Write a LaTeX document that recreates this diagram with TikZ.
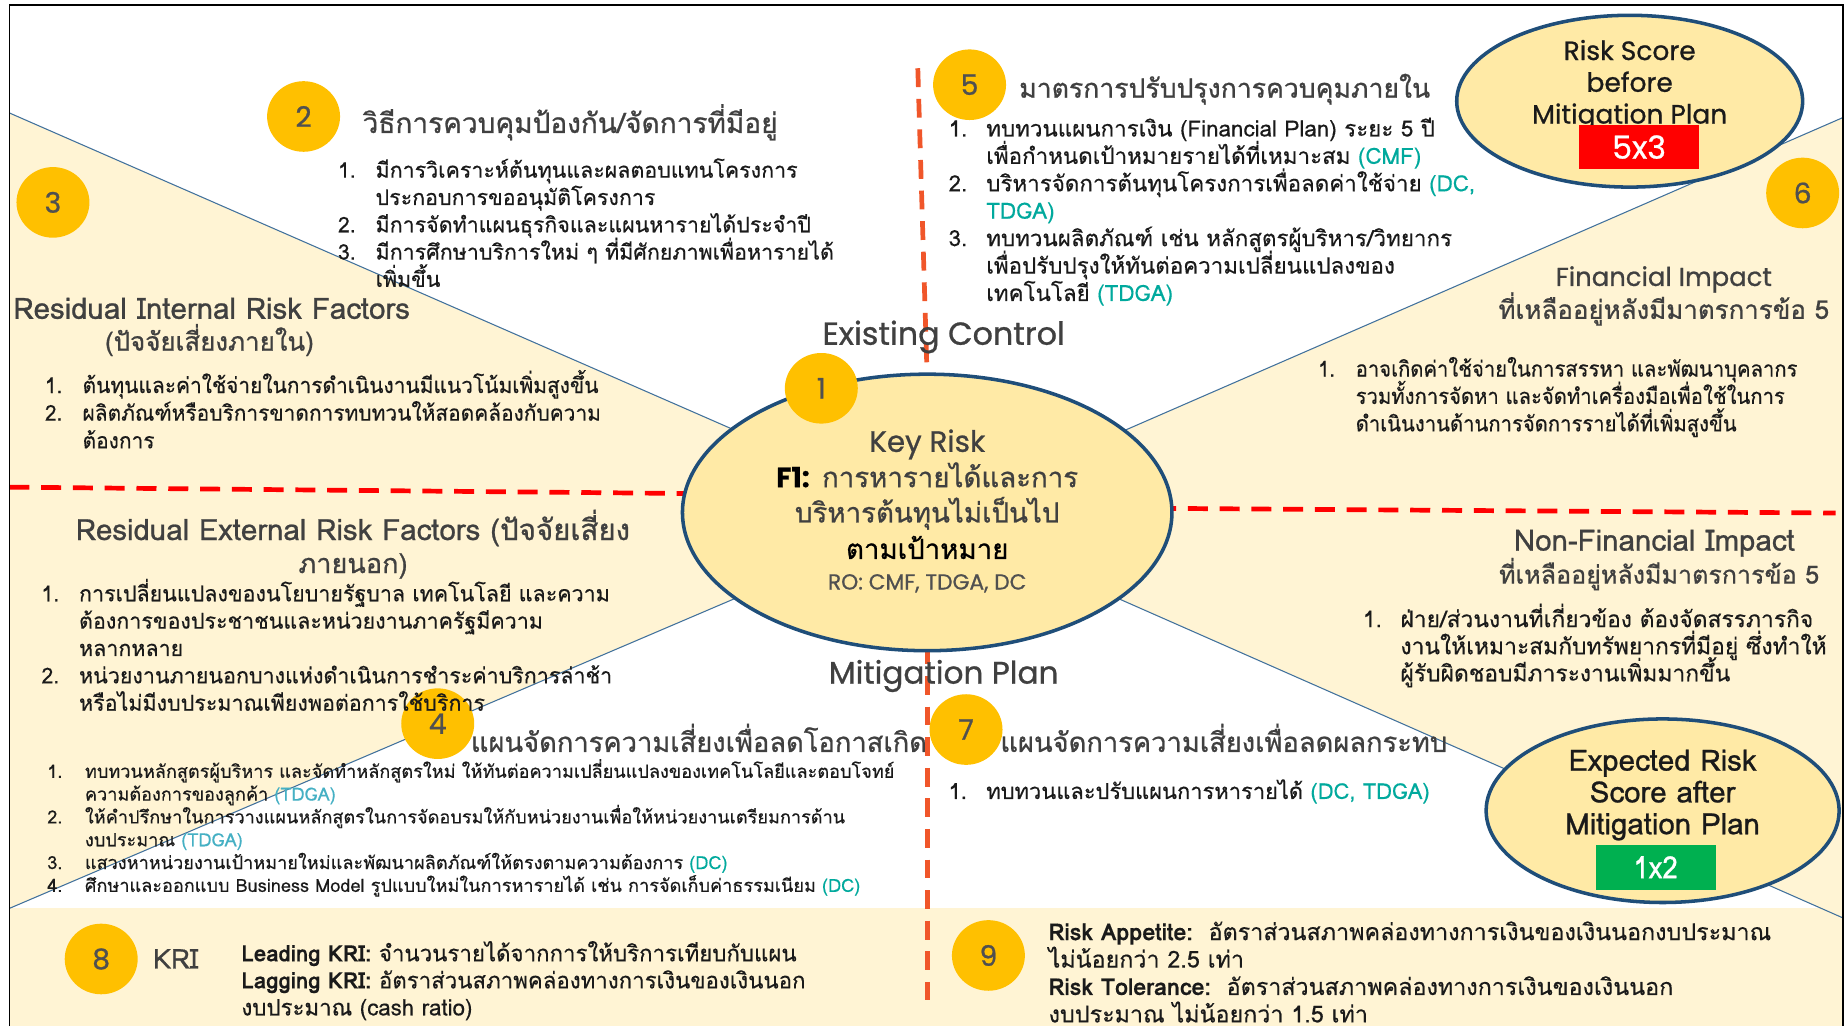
\documentclass[tikz,border=0pt]{standalone}
\usepackage{fontspec}
\setmainfont{Poppins}
\newfontfamily\thf[Script=Thai,FakeBold=0.4]{Loma}
\newfontfamily\thh[Script=Thai,FakeBold=0.8]{Loma}
\newfontfamily\pop[FakeBold=0.8]{Poppins}
\usetikzlibrary{shapes.geometric}
\pgfdeclarelayer{bg}
\pgfsetlayers{bg,main}

\definecolor{cream}{HTML}{FFF4D4}
\definecolor{keyfill}{HTML}{FFEAA6}
\definecolor{navy}{HTML}{1F4E79}
\definecolor{steel}{HTML}{41719C}
\definecolor{gold}{HTML}{FFC000}
\definecolor{numgray}{HTML}{505050}
\definecolor{head}{HTML}{404040}
\definecolor{body}{HTML}{1A1A1A}
\definecolor{tealro}{HTML}{00A99D}
\definecolor{cyanro}{HTML}{45B0C4}
\definecolor{dashred}{HTML}{FF0000}
\definecolor{dashorange}{HTML}{F0562A}
\definecolor{scorered}{HTML}{FF0000}
\definecolor{scoregreen}{HTML}{00B050}

% list helpers: hanging item number and continuation indent
\newcommand\nm[1]{\makebox[32pt][l]{#1}}
\newcommand\ind{\hspace*{32pt}}
\newcommand\ro[1]{\textcolor{tealro}{#1}}
\newcommand\rc[1]{\textcolor{cyanro}{#1}}
% Thai text at a size and a horizontal squeeze
\newcommand\thsize[2]{\thf\fontsize{#1}{#1}\selectfont\addfontfeatures{FakeStretch=#2}}
\newcommand\thhead[2]{\thh\fontsize{#1}{#1}\selectfont\addfontfeatures{FakeStretch=#2}}
% one node per text line: [style] name x y-of-first-baseline line-step {lines}
\newcommand\tlines[6][]{%
  \foreach \tx [count=\i from 0] in {#6}{%
    \node[txt,#1] (#2-\i) at ({#3},{#4+\i*#5}) {\tx};}}

\tikzset{
  txt/.style={anchor=base west, inner sep=0pt, text=body},
  ctxt/.style={anchor=base, inner sep=0pt},
  titlef/.style={font=\thhead{#1}{1}, text=head},
  popf/.style={font=\pop\fontsize{#1}{#1}\selectfont},
  badge/.style={ellipse, fill=gold, minimum width=62pt, minimum height=60pt,
    inner sep=0pt, text=numgray, font=\pop\fontsize{24}{24}\selectfont},
  bubble/.style={ellipse, draw=navy, line width=3pt, fill=keyfill, inner sep=0pt},
  diag/.style={draw=steel, line width=0.9pt},
  reddash/.style={draw=dashred, line width=4pt, dash pattern=on 17pt off 10pt},
  orangedash/.style={draw=dashorange, line width=4pt, dash pattern=on 16pt off 10pt},
  scorebox/.style={minimum width=102pt, minimum height=38pt, inner sep=0pt, text=white},
}

\begin{document}
\begin{tikzpicture}[x=1pt,y=-1pt]
\useasboundingbox (0,0) rectangle (1568,872);

% ---- central key risk ----
\node[bubble, minimum width=416pt, minimum height=235pt] (key) at (788,435.5) {};
\coordinate (hub) at (790,438);

% ---- background: quadrants, boundaries and dashed dividers ----
\begin{pgfonlayer}{bg}
  \fill[white] (0,0) rectangle (1568,872);
  \coordinate (tl) at (8,96);
  \coordinate (bl) at (8,772);
  \coordinate (tr) at (1566,100);
  \coordinate (br) at (1566,780);
  \fill[cream] (tl) -- (hub) -- (bl) -- cycle;
  \fill[cream] (tr) -- (hub) -- (br) -- cycle;
  \fill[cream] (8,772) rectangle (1566,872);
  \draw[diag] (tl) -- (hub);
  \draw[diag] (bl) -- (hub);
  \draw[diag] (tr) -- (hub);
  \draw[diag] (br) -- (hub);
  \coordinate (hl) at (8,414);
  \coordinate (hr) at (1560,436);
  \coordinate (vt) at (780,58);
  \coordinate (vb) at (788,850);
  \draw[reddash] (hl) -- ([xshift=15pt,yshift=16pt]key.west);
  \draw[reddash] ([xshift=-15pt,yshift=3.5pt]key.east) -- (hr);
  \draw[orangedash] (vt) -- ([yshift=-6pt]key.north);
  \draw[orangedash] ([yshift=6pt]key.south) -- (vb);
  \draw[line width=1.5pt, black] (8,872) -- (8,4) -- (1566,4) -- (1566,872);
\end{pgfonlayer}

% ---- score bubbles ----
\node[bubble, minimum width=294pt, minimum height=146pt] (before) at (1385,86) {};
\node[bubble, minimum width=300pt, minimum height=156pt] (after) at (1413,689) {};

% ---- numbered badges ----
\node[badge] (b1) at (698,330) {1};
\node[badge] (b2) at (258,99) {2};
\node[badge] (b3) at (45,172) {3};
\node[badge] (b4) at (372,615) {4};
\node[badge] (b5) at (824,72) {5};
\node[badge] (b6) at (1532,164) {6};
\node[badge] (b7) at (821,620) {7};
\node[badge] (b8) at (86,815) {8};
\node[badge] (b9) at (840,812) {9};

% ---- key risk text ----
\node[ctxt, popf=25, text=head] (keyh) at (788,384) {Key Risk};
\node[ctxt, font=\thhead{23.5}{1}, text=head] (keya) at (788,414)
  {{\pop\bfseries\color{black}F1:} การหารายได้และการ};
\node[ctxt, font=\thhead{23.5}{1}, text=head] (keyb) at (788,444) {บริหารต้นทุนไม่เป็นไป};
\node[ctxt, font=\thhead{23.5}{1}, text=black] (keyc) at (788,475) {ตามเป้าหมาย};
\node[ctxt, popf=18.5, text=numgray] (keyro) at (788,501) {RO: CMF, TDGA, DC};

\node[ctxt, popf=27, text=head] (exist) at (802,293) {Existing Control};
\node[ctxt, popf=26.5, text=head] (mitig) at (802,581) {Mitigation Plan};

% ---- score texts ----
\node[ctxt, popf=22.5, text=body] (bf1) at (1385,51) {Risk Score};
\node[ctxt, popf=22.5, text=body] (bf2) at (1385,78) {before};
\node[ctxt, popf=22.5, text=body] (bf3) at (1385,105) {Mitigation Plan};
\node[scorebox, fill=scorered, popf=27] (bscore) at (1393,125) {5x3};

\node[ctxt, titlef=25, text=body] (af1) at (1413,655) {Expected Risk};
\node[ctxt, titlef=25, text=body] (af2) at (1413,682) {Score after};
\node[ctxt, titlef=25, text=body] (af3) at (1413,709) {Mitigation Plan};
\node[scorebox, fill=scoregreen, font=\thhead{26}{0.9}] (ascore) at (1407,737) {1x2};

% ---- 2: existing controls ----
\node[txt, titlef=23.8] (t2) at (308,113) {วิธีการควบคุมป้องกัน/จัดการที่มีอยู่};
\tlines[font=\thsize{18.2}{1}]{l2}{287}{151}{23.2}{%
  {\nm{1.}มีการวิเคราะห์ต้นทุนและผลตอบแทนโครงการ},
  {\ind ประกอบการขออนุมัติโครงการ},
  {\nm{2.}มีการจัดทำแผนธุรกิจและแผนหารายได้ประจำปี},
  {\nm{3.}มีการศึกษาบริการใหม่ ๆ ที่มีศักยภาพเพื่อหารายได้},
  {\ind เพิ่มขึ้น}}

% ---- 3: internal factors ----
\node[ctxt, titlef=25] (t3a) at (180,271) {Residual Internal Risk Factors};
\node[ctxt, titlef=22] (t3b) at (178,298) {(ปัจจัยเสี่ยงภายใน)};
\tlines[font=\thsize{18.5}{0.96}]{l3}{38}{334}{23.5}{%
  {\nm{1.}ต้นทุนและค่าใช้จ่ายในการดำเนินงานมีแนวโน้มเพิ่มสูงขึ้น},
  {\nm{2.}ผลิตภัณฑ์หรือบริการขาดการทบทวนให้สอดคล้องกับความ},
  {\ind ต้องการ}}

% ---- external factors ----
\node[ctxt, titlef=25] (tea) at (300,459) {Residual External Risk Factors (ปัจจัยเสี่ยง};
\node[ctxt, titlef=23] (teb) at (300,487) {ภายนอก)};
\tlines[font=\thsize{18.5}{0.985}]{le}{35}{511}{23.25}{%
  {\nm{1.}การเปลี่ยนแปลงของนโยบายรัฐบาล เทคโนโลยี และความ},
  {\ind ต้องการของประชาชนและหน่วยงานภาครัฐมีความ},
  {\ind หลากหลาย},
  {\nm{2.}หน่วยงานภายนอกบางแห่งดำเนินการชำระค่าบริการล่าช้า},
  {\ind หรือไม่มีงบประมาณเพียงพอต่อการใช้บริการ}}

% ---- 4: likelihood mitigation ----
\node[txt, titlef=23.2] (t4) at (400,639) {แผนจัดการความเสี่ยงเพื่อลดโอกาสเกิด};
\tlines[font=\thsize{15.4}{1}]{l4}{40}{661}{19.4}{%
  {\nm{1.}ทบทวนหลักสูตรผู้บริหาร และจัดทำหลักสูตรใหม่ ให้ทันต่อความเปลี่ยนแปลงของเทคโนโลยีและตอบโจทย์},
  {\ind ความต้องการของลูกค้า \rc{(TDGA)}},
  {\nm{2.}ให้คำปรึกษาในการวางแผนหลักสูตรในการจัดอบรมให้กับหน่วยงานเพื่อให้หน่วยงานเตรียมการด้าน},
  {\ind งบประมาณ \rc{(TDGA)}},
  {\nm{3.}แสวงหาหน่วยงานเป้าหมายใหม่และพัฒนาผลิตภัณฑ์ให้ตรงตามความต้องการ \ro{(DC)}},
  {\nm{4.}ศึกษาและออกแบบ Business Model รูปแบบใหม่ในการหารายได้ เช่น การจัดเก็บค่าธรรมเนียม \ro{(DC)}}}

% ---- 5: control improvements ----
\node[txt, titlef=22.6] (t5) at (866,83) {มาตรการปรับปรุงการควบคุมภายใน};
\tlines[font=\thsize{19}{1}]{l5}{806}{116}{23.3}{%
  {\nm{1.}ทบทวนแผนการเงิน (Financial Plan) ระยะ 5 ปี},
  {\ind เพื่อกำหนดเป้าหมายรายได้ที่เหมาะสม \ro{(CMF)}},
  {\nm{2.}บริหารจัดการต้นทุนโครงการเพื่อลดค่าใช้จ่าย \ro{(DC,}},
  {\ind\ro{TDGA)}},
  {\nm{3.}ทบทวนผลิตภัณฑ์ เช่น หลักสูตรผู้บริหาร/วิทยากร},
  {\ind เพื่อปรับปรุงให้ทันต่อความเปลี่ยนแปลงของ},
  {\ind เทคโนโลยี \ro{(TDGA)}}}

% ---- 6: financial impact ----
\node[ctxt, popf=22, text=head] (t6a) at (1414,243) {Financial Impact};
\node[ctxt, titlef=22] (t6b) at (1414,271) {ที่เหลืออยู่หลังมีมาตรการข้อ 5};
\tlines[font=\thsize{18.5}{0.93}]{l6}{1120}{320}{23.3}{%
  {\nm{1.}อาจเกิดค่าใช้จ่ายในการสรรหา และพัฒนาบุคลากร},
  {\ind รวมทั้งการจัดหา และจัดทำเครื่องมือเพื่อใช้ในการ},
  {\ind ดำเนินงานด้านการจัดการรายได้ที่เพิ่มสูงขึ้น}}

% ---- non-financial impact ----
\node[ctxt, titlef=25] (tna) at (1406,468) {Non-Financial Impact};
\node[ctxt, titlef=21.3] (tnb) at (1410,496) {ที่เหลืออยู่หลังมีมาตรการข้อ 5};
\tlines[font=\thsize{19.4}{1}]{ln}{1158}{533}{23}{%
  {\nm{1.}ฝ่าย/ส่วนงานที่เกี่ยวข้อง ต้องจัดสรรภารกิจ},
  {\ind งานให้เหมาะสมกับทรัพยากรที่มีอยู่ ซึ่งทำให้},
  {\ind ผู้รับผิดชอบมีภาระงานเพิ่มมากขึ้น}}

% ---- 7: impact mitigation ----
\node[txt, titlef=23.2] (t7) at (850,639) {แผนจัดการความเสี่ยงเพื่อลดผลกระทบ};
\tlines[font=\thsize{18.6}{1}]{l7}{806}{679}{23}{%
  {\nm{1.}ทบทวนและปรับแผนการหารายได้ \ro{(DC, TDGA)}}}

% ---- 8: KRI ----
\node[txt, titlef=23] (t8) at (130,823) {KRI};
\tlines[font=\thsize{19.2}{0.985}]{l8}{205}{817}{23}{%
  {\textbf{Leading KRI:} จำนวนรายได้จากการให้บริการเทียบกับแผน},
  {\textbf{Lagging KRI:} อัตราส่วนสภาพคล่องทางการเงินของเงินนอก},
  {งบประมาณ (cash ratio)}}

% ---- 9: appetite and tolerance ----
\tlines[font=\thsize{19.8}{1}]{l9}{891}{799}{23.3}{%
  {\textbf{Risk Appetite:}\ \ อัตราส่วนสภาพคล่องทางการเงินของเงินนอกงบประมาณ},
  {ไม่น้อยกว่า 2.5 เท่า},
  {\textbf{Risk Tolerance:}\ \ อัตราส่วนสภาพคล่องทางการเงินของเงินนอก},
  {งบประมาณ ไม่น้อยกว่า 1.5 เท่า}}
\end{tikzpicture}
\end{document}
